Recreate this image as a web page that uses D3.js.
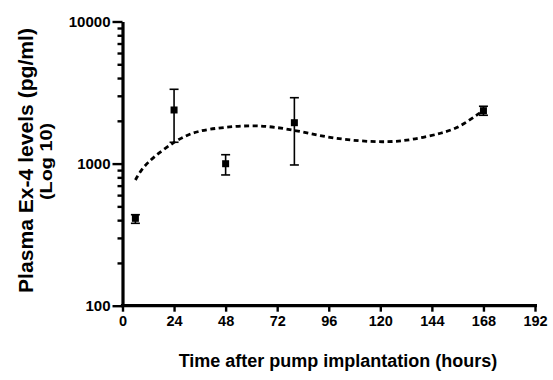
<!DOCTYPE html>
<html>
<head>
<meta charset="utf-8">
<script src="https://cdn.jsdelivr.net/npm/d3@7"></script>
<style>
  html, body { margin: 0; padding: 0; background: #fff; }
  svg { display: block; font-family: "Liberation Sans", Arial, sans-serif; }
  .tick text { font-family: "Liberation Sans", Arial, sans-serif; font-weight: 700; fill: #000; }
  .axis path.domain { stroke: #000; stroke-width: 3.2px; }
  .axis .tick line { stroke: #000; stroke-width: 2.4px; }
</style>
</head>
<body>
<svg id="chart" width="553" height="380"></svg>
<script>
// ---- Data ----
const hours = [6, 24, 48, 80, 168];
const meanLevels = [412, 2384, 998, 1940, 2357];
const upperLevels = [437, 3334, 1155, 2909, 2532];
const lowerLevels = [380, 1413, 832, 978, 2188];

const fitHours = [6, 12, 24, 35, 48, 63, 79, 95, 110, 123, 135, 148, 157, 164, 168];
const fitLevels = [767, 1020, 1410, 1676, 1800, 1841, 1723, 1545, 1449, 1426, 1483, 1635, 1840, 2150, 2360];

const xTicks = [0, 24, 48, 72, 96, 120, 144, 168, 192];
const yMajorTicks = [100, 1000, 10000];
const yMinorTicks = [200, 300, 400, 500, 600, 700, 800, 900, 2000, 3000, 4000, 5000, 6000, 7000, 8000, 9000];

const xTitle = "Time after pump implantation (hours)";
const yTitle = "Plasma Ex-4 levels (pg/ml)";
const yTitle2 = "(Log 10)";

// ---- Layout ----
const svg = d3.select("#chart");
const x = d3.scaleLinear().domain([0, 192]).range([122.5, 535]);
const y = d3.scaleLog().domain([100, 10000]).range([305.7, 21.5]);

// Fit curve (dashed)
const line = d3.line()
  .x((d, i) => x(fitHours[i]))
  .y((d, i) => y(fitLevels[i]))
  .curve(d3.curveNatural);
svg.append("path")
  .attr("d", line(fitHours))
  .style("fill", "none")
  .style("stroke", "#000")
  .style("stroke-width", "2.8px")
  .style("stroke-dasharray", "5,3.5");

// Error bars
const eb = svg.append("g").style("stroke", "#000").style("stroke-width", "1.6px");
hours.forEach((h, i) => {
  eb.append("line").attr("x1", x(h)).attr("x2", x(h))
    .attr("y1", y(upperLevels[i])).attr("y2", y(lowerLevels[i]));
  [upperLevels[i], lowerLevels[i]].forEach(v => {
    eb.append("line").attr("x1", x(h) - 4.5).attr("x2", x(h) + 4.5)
      .attr("y1", y(v)).attr("y2", y(v));
  });
});

// Markers
svg.append("g").selectAll("rect").data(hours).join("rect")
  .attr("x", d => x(d) - 3.5)
  .attr("y", (d, i) => y(meanLevels[i]) - 3.5)
  .attr("width", 7).attr("height", 7)
  .style("fill", "#000");

// Axes
const yAxisMinor = d3.axisLeft(y).tickValues(yMinorTicks).tickSize(5).tickFormat("");
const gMinor = svg.append("g").attr("class", "axis").attr("transform", "translate(122.5,0)").call(yAxisMinor);
gMinor.select(".domain").remove();

const yAxis = d3.axisLeft(y).tickValues(yMajorTicks).tickSize(10).tickSizeOuter(0)
  .tickPadding(2).tickFormat(d3.format("d"));
const gy = svg.append("g").attr("class", "axis").attr("transform", "translate(122.5,0)").call(yAxis);
gy.selectAll(".tick text").style("font-size", "15px");

const xAxis = d3.axisBottom(x).tickValues(xTicks).tickSize(6).tickSizeOuter(0)
  .tickPadding(4).tickFormat(d3.format("d"));
const gx = svg.append("g").attr("class", "axis").attr("transform", "translate(0,305.7)").call(xAxis);
gx.select(".domain").attr("d", `M${x(0) - 1.6},0H${x(192) + 2}`);
gx.selectAll(".tick text").style("font-size", "14.5px");

// Titles
svg.append("text")
  .attr("x", 338).attr("y", 367)
  .attr("text-anchor", "middle")
  .style("font-size", "18px").style("font-weight", "bold")
  .text(xTitle);

svg.append("text")
  .attr("transform", "translate(33,160.5) rotate(-90)")
  .attr("text-anchor", "middle")
  .style("font-size", "20px").style("font-weight", "bold")
  .attr("textLength", 265).attr("lengthAdjust", "spacingAndGlyphs")
  .text(yTitle);

svg.append("text")
  .attr("transform", "translate(52,161.5) rotate(-90)")
  .attr("text-anchor", "middle")
  .style("font-size", "16px").style("font-weight", "bold")
  .attr("textLength", 77).attr("lengthAdjust", "spacingAndGlyphs")
  .text(yTitle2);
</script>
</body>
</html>
